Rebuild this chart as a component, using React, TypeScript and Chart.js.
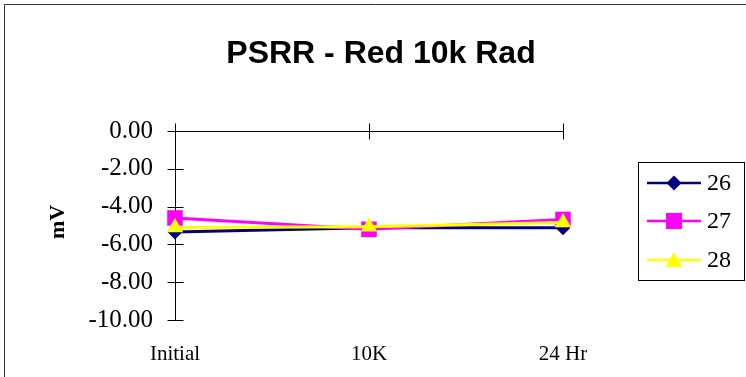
import React, { useEffect, useRef } from "react";
import { Chart, registerables } from "chart.js";

Chart.register(...registerables);

const categories = ["Initial", "10K", "24 Hr"];
const series26 = [-5.34, -5.12, -5.12];
const series27 = [-4.6, -5.2, -4.68];
const series28 = [-5.1, -5.06, -4.84];
const seriesNames = ["26", "27", "28"];
const yTicks = [0, -2, -4, -6, -8, -10];
const chartTitle = "PSRR - Red 10k Rad";
const yTitle = "mV";

const colors = ["#000080", "#FF00FF", "#FFFF00"];
const pointStyles = ["rectRot", "rect", "triangle"];
const pointRadii = [7.5, 11, 9.5];

const W = 746;
const H = 377;

const decorPlugin = {
  id: "decor",
  beforeDatasetsDraw(chart: any) {
    const ctx = chart.ctx;
    const xs = chart.scales.x;
    const ys = chart.scales.y;
    const area = chart.chartArea;
    ctx.save();
    ctx.strokeStyle = "#000";
    ctx.lineWidth = 1;
    const ax = Math.round(area.left) + 0.5;
    ctx.beginPath();
    ctx.moveTo(ax, ys.getPixelForValue(0));
    ctx.lineTo(ax, ys.getPixelForValue(-10));
    yTicks.forEach((v) => {
      const py = Math.round(ys.getPixelForValue(v)) + 0.5;
      ctx.moveTo(ax - 8, py);
      ctx.lineTo(ax + 8, py);
    });
    const y0 = Math.round(ys.getPixelForValue(0)) + 0.5;
    ctx.moveTo(xs.getPixelForValue(0), y0);
    ctx.lineTo(xs.getPixelForValue(categories.length - 1), y0);
    categories.forEach((_, i) => {
      const px = Math.round(xs.getPixelForValue(i)) + 0.5;
      ctx.moveTo(px, y0 - 8);
      ctx.lineTo(px, y0 + 8);
    });
    ctx.stroke();
    ctx.restore();
  },
  afterDraw(chart: any) {
    const ctx = chart.ctx;
    ctx.save();
    ctx.strokeStyle = "#333";
    ctx.lineWidth = 1;
    ctx.beginPath();
    ctx.moveTo(4.5, H);
    ctx.lineTo(4.5, 4.5);
    ctx.lineTo(W, 4.5);
    ctx.stroke();
    ctx.fillStyle = "#000";
    ctx.font = "bold 32px 'Liberation Sans', Arial, sans-serif";
    ctx.textAlign = "center";
    ctx.textBaseline = "alphabetic";
    ctx.fillText(chartTitle, 381, 63);
    ctx.save();
    ctx.translate(58, 222);
    ctx.rotate(-Math.PI / 2);
    ctx.font = "bold 22px 'Liberation Serif', 'Times New Roman', serif";
    ctx.textAlign = "center";
    ctx.textBaseline = "middle";
    ctx.fillText(yTitle, 0, 0);
    ctx.restore();
    const lx = 638.5, ly = 162.5, lw = 106, lh = 118;
    ctx.fillStyle = "#fff";
    ctx.fillRect(lx, ly, lw, lh);
    ctx.strokeStyle = "#000";
    ctx.lineWidth = 1;
    ctx.strokeRect(lx, ly, lw, lh);
    const rowsY = [183, 221, 260];
    seriesNames.forEach((name, i) => {
      const cy = rowsY[i];
      ctx.strokeStyle = colors[i];
      ctx.lineWidth = 2.5;
      ctx.beginPath();
      ctx.moveTo(647, cy);
      ctx.lineTo(701, cy);
      ctx.stroke();
      ctx.fillStyle = colors[i];
      ctx.beginPath();
      if (i === 0) {
        ctx.moveTo(674, cy - 7.5);
        ctx.lineTo(681.5, cy);
        ctx.lineTo(674, cy + 7.5);
        ctx.lineTo(666.5, cy);
        ctx.closePath();
        ctx.fill();
      } else if (i === 1) {
        ctx.fillRect(666, cy - 8, 16, 16);
      } else {
        ctx.moveTo(674, cy - 8);
        ctx.lineTo(682, cy + 7);
        ctx.lineTo(666, cy + 7);
        ctx.closePath();
        ctx.fill();
      }
      ctx.fillStyle = "#000";
      ctx.font = "24px 'Liberation Serif', 'Times New Roman', serif";
      ctx.textAlign = "left";
      ctx.textBaseline = "middle";
      ctx.fillText(name, 707, cy + 1);
    });
    ctx.restore();
  },
};

export default function App() {
  const ref = useRef<HTMLCanvasElement>(null);
  useEffect(() => {
    if (!ref.current) return;
    const allSeries = [series26, series27, series28];
    const chart = new Chart(ref.current, {
      type: "line",
      data: {
        labels: categories,
        datasets: allSeries.map((d, i) => ({
          label: seriesNames[i],
          data: d,
          order: allSeries.length - 1 - i,
          borderColor: colors[i],
          backgroundColor: colors[i],
          borderWidth: 3,
          pointStyle: pointStyles[i] as any,
          pointRadius: pointRadii[i],
          pointBorderWidth: 0,
          pointBackgroundColor: colors[i],
          pointBorderColor: colors[i],
          tension: 0,
          clip: false as any,
        })),
      },
      options: {
        responsive: false,
        animation: false,
        layout: { padding: { left: 0, top: 131, right: 183, bottom: 0 } },
        plugins: {
          legend: { display: false },
          title: { display: false },
          tooltip: { enabled: false },
        },
        scales: {
          x: {
            grid: { display: false, drawTicks: false },
            border: { display: false },
            ticks: {
              color: "#000",
              padding: 22,
              maxRotation: 0,
              font: { family: "'Liberation Serif', 'Times New Roman', serif", size: 21 },
            },
            afterFit: (s: any) => {
              s.height = 57;
            },
          },
          y: {
            min: -10,
            max: 0,
            grid: { display: false, drawTicks: false },
            border: { display: false },
            ticks: {
              stepSize: 2,
              color: "#000",
              padding: 22,
              font: { family: "'Liberation Serif', 'Times New Roman', serif", size: 25 },
              callback: (v: any) => Number(v).toFixed(2),
            },
            afterFit: (s: any) => {
              s.width = 175;
            },
          },
        },
      },
      plugins: [decorPlugin],
    });
    return () => chart.destroy();
  }, []);
  return (
    <div style={{ position: "fixed", left: 0, top: 0, width: W, height: H, background: "#fff" }}>
      <canvas ref={ref} width={W} height={H} style={{ display: "block" }} />
    </div>
  );
}
